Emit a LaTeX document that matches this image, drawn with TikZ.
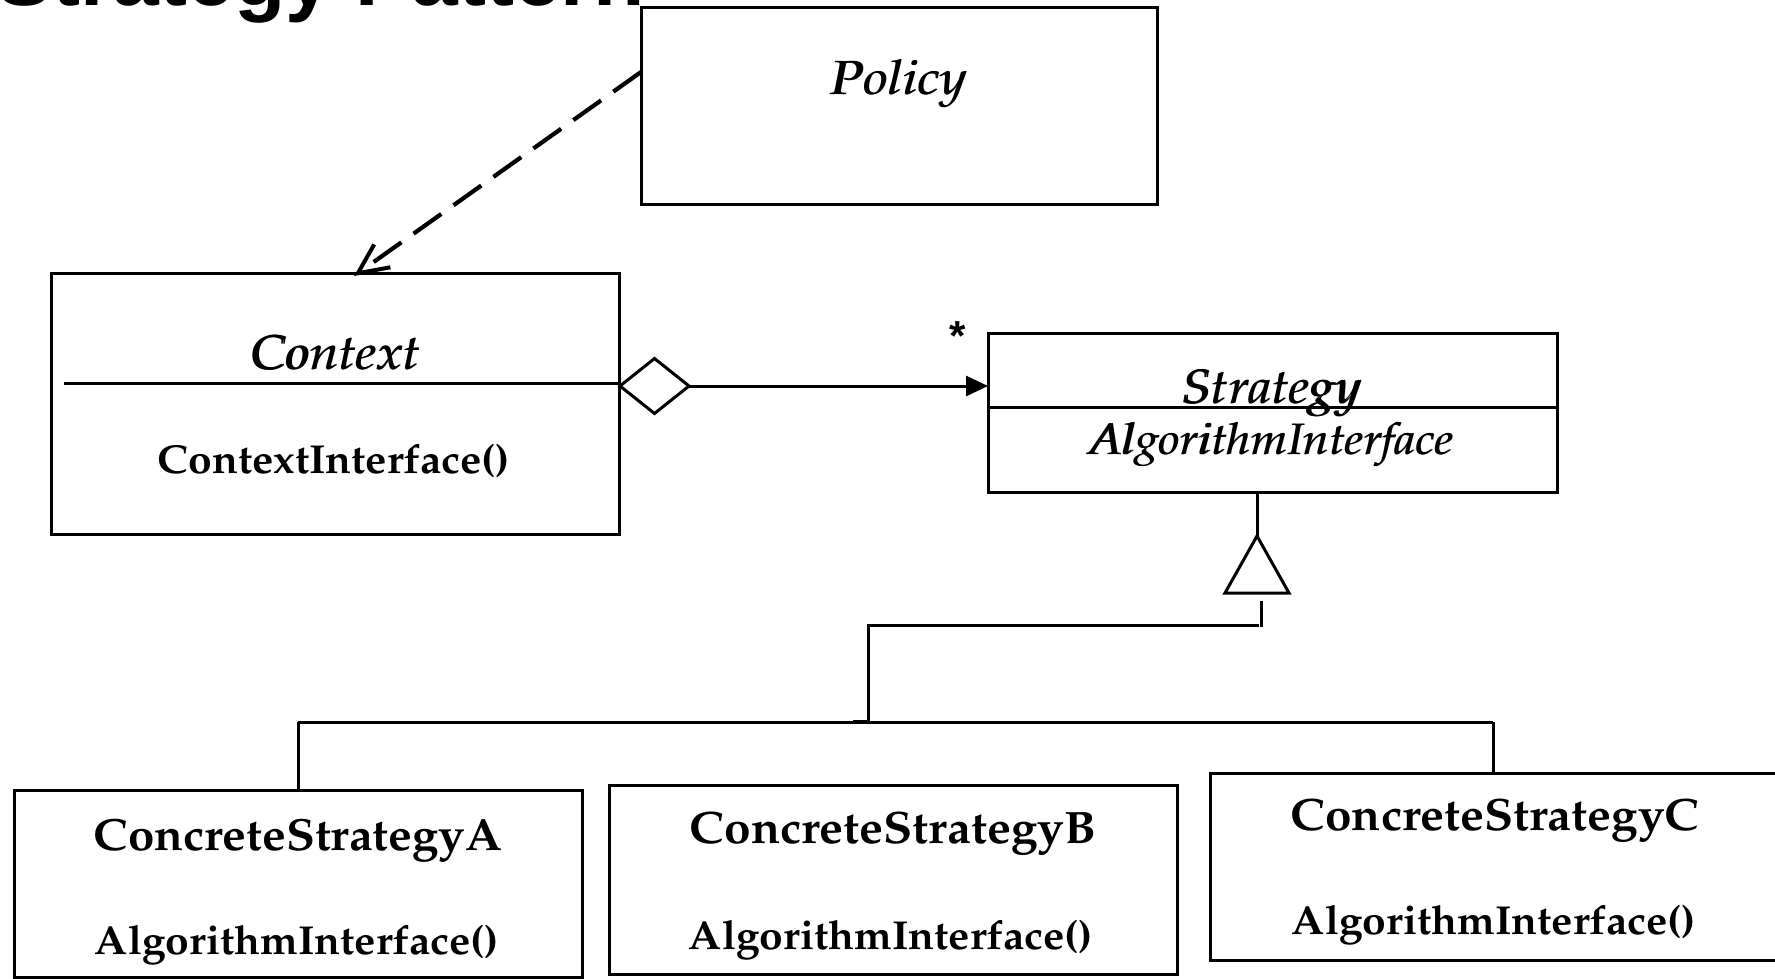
\documentclass[tikz,border=0pt]{standalone}
\usepackage[T1]{fontenc}
\usepackage{fontspec}
\usepackage{graphicx}
\usetikzlibrary{arrows.meta}
\newfontfamily\titlefont{Liberation Sans}
\newfontfamily\serifbackup{Liberation Serif}
\IfFileExists{t1ppl.fd}
  {\newcommand\pal{\fontencoding{T1}\fontfamily{ppl}\selectfont}}
  {\IfFileExists{t1qpl.fd}
     {\newcommand\pal{\fontencoding{T1}\fontfamily{qpl}\selectfont}}
     {\newcommand\pal{\serifbackup}}}
\newcommand\wtext[3][0.95]{\scalebox{1}[#1]{\resizebox{#2}{!}{#3}}}
\newsavebox\heavybox
\newcommand\wheavy[3][0.93]{\sbox\heavybox{\wtext[#1]{#2}{#3}}\rlap{\usebox\heavybox}\kern1.1pt\usebox\heavybox}
\begin{document}
\begin{tikzpicture}[x=1pt,y=-1pt,
  box/.style={draw, line width=3pt, inner sep=0pt, outer sep=0pt, anchor=north west},
  lbl/.style={inner sep=0pt, anchor=base},
  conn/.style={line width=3pt}]
\useasboundingbox (0,0) rectangle (1775,979);
\fill[white] (0,0) rectangle (1775,979);
% title
\node[anchor=base west, inner sep=0pt, font=\titlefont\bfseries\fontsize{84}{88}\selectfont] (title) at (-4,6) {Strategy Pattern};
% boxes
\node[box, minimum width=516pt, minimum height=196pt] (policy) at (641,8) {};
\node[box, minimum width=568pt, minimum height=261pt] (context) at (51,273) {};
\node[box, minimum width=569pt, minimum height=159pt] (strategy) at (988,333) {};
\node[box, minimum width=568pt, minimum height=187pt] (csa) at (14,790) {};
\node[box, minimum width=568pt, minimum height=189pt] (csb) at (609,785) {};
\node[box, minimum width=570pt, minimum height=187pt] (csc) at (1210,773) {};
% texts
\node[lbl] (policyname) at (899,95) {\wheavy[0.88]{137pt}{\pal\itshape Policy}};
\node[lbl] (contextname) at (336,369) {\wheavy{169pt}{\pal\itshape Context}};
\node[lbl] (contextop) at (334,473) {\wtext{352pt}{\pal\bfseries ContextInterface()}};
\node[lbl] (strategyname) at (1272,403) {\wheavy{179pt}{\pal\itshape Strategy}};
\node[lbl] (strategyop) at (1271,454) {\wheavy{365pt}{\pal\itshape AlgorithmInterface}};
\node[lbl] (csaname) at (298,850) {\wtext{408pt}{\pal\bfseries ConcreteStrategyA}};
\node[lbl] (csaop) at (297,954) {\wtext{404pt}{\pal\bfseries AlgorithmInterface()}};
\node[lbl] (csbname) at (893,843) {\wtext{406pt}{\pal\bfseries ConcreteStrategyB}};
\node[lbl] (csbop) at (891,949) {\wtext{404pt}{\pal\bfseries AlgorithmInterface()}};
\node[lbl] (cscname) at (1495,830) {\wtext{408pt}{\pal\bfseries ConcreteStrategyC}};
\node[lbl] (cscop) at (1494,934) {\wtext{404pt}{\pal\bfseries AlgorithmInterface()}};
\node[inner sep=0pt, font=\titlefont\bfseries\fontsize{42}{42}\selectfont] (star) at (958,336) {*};
% separators
\coordinate (csep) at (64,383);
\draw[conn] (csep) -- (csep -| context.east);
\coordinate (ssep) at (988,407);
\draw[conn] (ssep) -- (ssep -| strategy.east);
% dependency
\coordinate (depstart) at (641,72);
\coordinate (deptip) at (354,276);
\draw[line width=4.2pt, dash pattern=on 34pt off 15pt, -{Straight Barb[length=30pt, width=28pt, line width=4pt]}] (depstart) -- (deptip);
% aggregation
\coordinate (dL) at (620,386);
\coordinate (dR) at (689,386);
\draw[conn, line join=miter] (dL) -- (654.5,358.5) -- (dR) -- (654.5,413.5) -- cycle;
\draw[conn, -{Triangle[length=22pt, width=20pt]}] (dR) -- (dR -| strategy.west);
% inheritance
\coordinate (apex) at (1257,536);
\draw[conn] (apex |- strategy.south) -- (apex);
\draw[conn, line join=miter] (apex) -- (1289,593) -- (1225,593) -- cycle;
\coordinate (tickTop) at (1261,601);
\coordinate (tickBot) at (1261,627);
\draw[conn] (tickTop) -- (tickBot);
\coordinate (h1R) at (1259,625);
\coordinate (h1L) at (868,625);
\coordinate (bus) at (868,722);
\draw[conn] (h1R) -- (h1L) -- (bus);
\draw[line width=3.6pt] (853,722) -- (bus);
\coordinate (busL) at (298,722);
\coordinate (busR) at (1493,722);
\draw[conn] (busL) -- (busR);
\draw[conn] (busL) -- (busL |- csa.north);
\draw[conn] (busR) -- (busR |- csc.north);
\end{tikzpicture}
\end{document}
